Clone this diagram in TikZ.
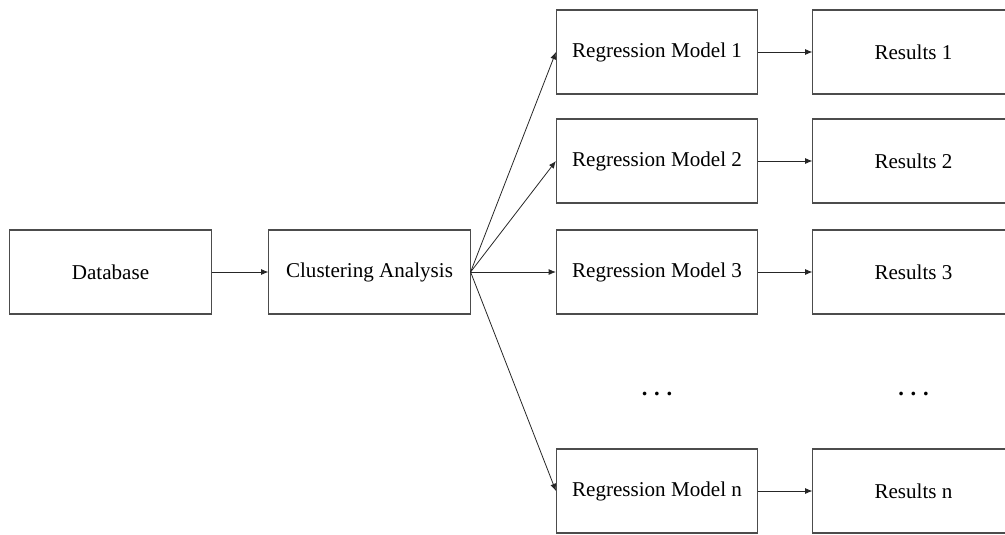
\documentclass[tikz,border=0pt]{standalone}
\usepackage{fontspec}
\setmainfont{Liberation Serif}
\usetikzlibrary{arrows.meta, positioning}

\begin{document}
\begin{tikzpicture}[x=0.0265cm, y=-0.0265cm,
  box/.style={draw=black!70, line width=0.8pt, minimum width=5.33cm, minimum height=2.226cm, inner sep=0pt, font=\fontsize{15.9}{19}\selectfont},
  link/.style={draw=black!85, line width=0.6pt, -{Latex[length=5.5pt,width=4.5pt]}},
  gap/.style={anchor=base, font=\fontsize{17}{20}\selectfont\bfseries}]
\useasboundingbox (0,0) rectangle (1005,534);
\node[box] (db) at (110.5,272) {Database};
\node[box] (clu) at (369.5,272) {Clustering Analysis};
\draw[link] (db) -- (clu);
\foreach \i/\y in {1/52, 2/161, 3/272, n/491} {
  \node[box] (reg\i) at (657,\y) {Regression Model \i};
  \node[box] (res\i) at (913.5,\y) {Results \i};
  \draw[link] (clu.east) -- (reg\i.west);
  \draw[link] (reg\i) -- (res\i);
}
% elided rows
\node[gap] (regdots) at (657,395) {.\hspace{0.3em}.\hspace{0.3em}.};
\node[gap] (resdots) at (913.5,395) {.\hspace{0.3em}.\hspace{0.3em}.};
\end{tikzpicture}
\end{document}
